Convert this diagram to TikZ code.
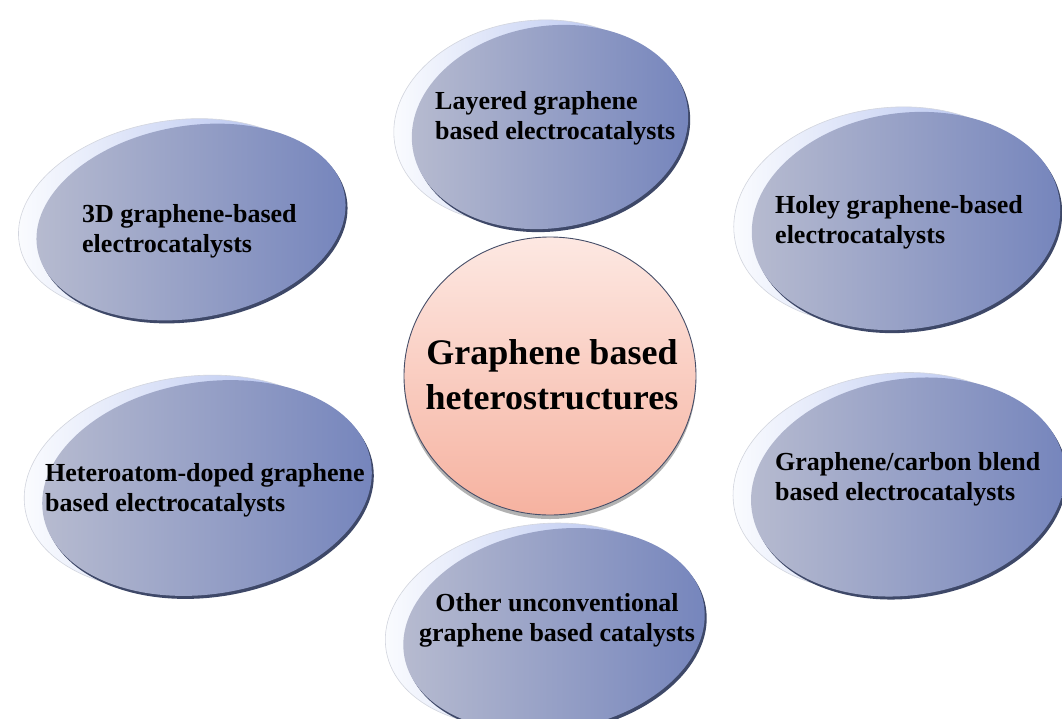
\documentclass[tikz,border=0pt]{standalone}
\usepackage{fontspec}
\setmainfont{Liberation Serif}
\usetikzlibrary{shapes.geometric}
\definecolor{bubL}{RGB}{184,188,208}
\definecolor{bubR}{RGB}{116,132,188}
\definecolor{bubRim}{RGB}{62,72,104}
\definecolor{cresL}{RGB}{252,253,255}
\definecolor{cresM}{RGB}{236,240,250}
\definecolor{cresR}{RGB}{168,184,236}
\definecolor{cresEdge}{RGB}{210,213,222}
\definecolor{hubTop}{RGB}{253,232,226}
\definecolor{hubBot}{RGB}{246,178,160}
\definecolor{hubRim}{RGB}{70,78,104}
\tikzset{
 crescent/.style={ellipse, inner sep=0pt, outer sep=0pt, left color=cresL, middle color=cresM, right color=cresR, draw=cresEdge, line width=0.6pt},
 rimshadow/.style={ellipse, inner sep=0pt, outer sep=0pt, fill=bubRim},
 bubble/.style={ellipse, inner sep=0pt, outer sep=0pt, left color=bubL, right color=bubR},
 bubtext/.style={font=\fontsize{26}{30}\selectfont\bfseries, align=left, inner sep=0pt, anchor=west, text=black},
 hub/.style={ellipse, inner sep=0pt, top color=hubTop, bottom color=hubBot, draw=hubRim, line width=0.9pt},
 hubshadow/.style={ellipse, inner sep=0pt, fill=black!30},
 hubtext/.style={font=\fontsize{36}{45}\selectfont\bfseries, align=center, inner sep=0pt}
}
\newcommand\mybubble[6]{%
 \node[crescent, minimum width=#4pt, minimum height=#5pt, rotate=#6] (#1c) at (#2-18,#3-5) {};
 \node[rimshadow, minimum width=#4pt, minimum height=#5pt, rotate=#6] (#1s) at (#2+2,#3+3) {};
 \node[bubble, minimum width=#4pt, minimum height=#5pt, rotate=#6] (#1) at (#2,#3) {};
}
\begin{document}
\begin{tikzpicture}[x=1pt,y=-1pt]
\useasboundingbox[fill=white] (0,0) rectangle (1062,718);
\mybubble{bL}{550}{127}{278}{202}{9}
\mybubble{bD}{191}{222}{312}{192}{10}
\mybubble{bH}{906}{221}{310}{216}{8}
\mybubble{bA}{207}{488}{332}{212}{9}
\mybubble{bG}{908}{487}{316}{216}{9}
\mybubble{bO}{554}{630}{304}{200}{10}
\node[bubtext] (tL) at (435,118) {Layered graphene\\based electrocatalysts};
\node[bubtext] (tD) at (82,231) {3D graphene-based\\electrocatalysts};
\node[bubtext] (tH) at (775,222) {Holey graphene-based\\electrocatalysts};
\node[bubtext] (tA) at (45,490) {Heteroatom-doped graphene\\based electrocatalysts};
\node[bubtext] (tG) at (775,479) {Graphene/carbon blend\\based electrocatalysts};
\node[bubtext, align=center, anchor=center] (tO) at (557,620) {Other unconventional\\graphene based catalysts};
\node[hubshadow, minimum width=292pt, minimum height=278pt] (hubs) at (550,380) {};
\node[hub, minimum width=292pt, minimum height=278pt] (hub) at (550,376) {};
\node[hubtext] (th) at (552,375) {Graphene based\\heterostructures};
\end{tikzpicture}
\end{document}
